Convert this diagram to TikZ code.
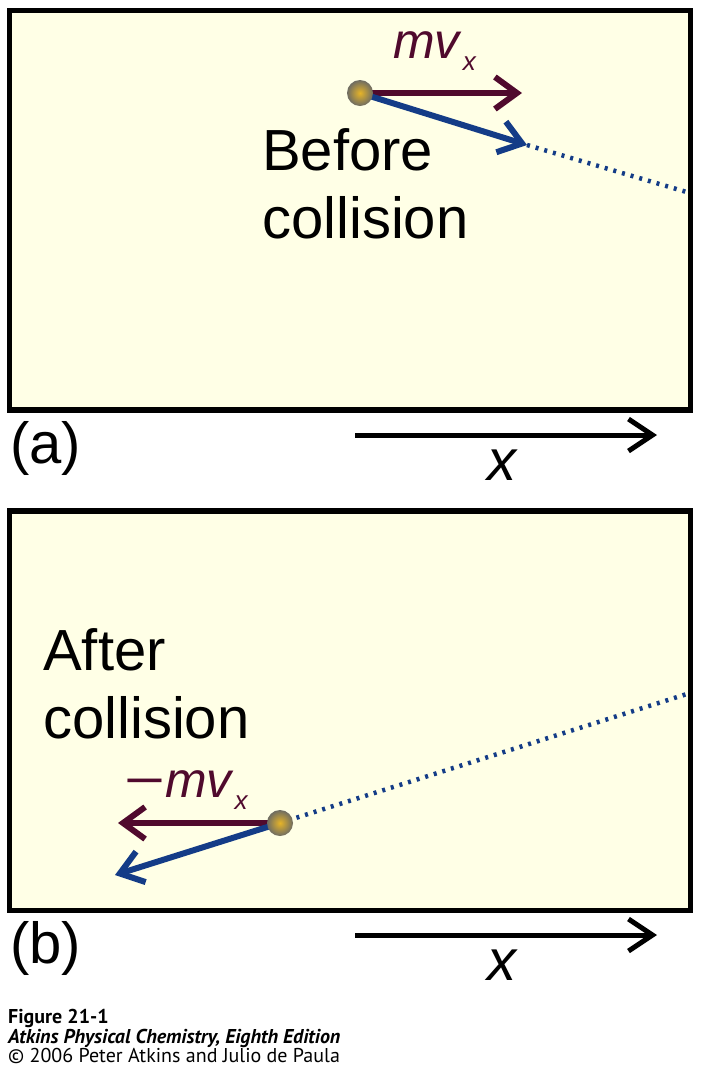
\documentclass[tikz,border=0pt]{standalone}
\usepackage{fontspec}
\setmainfont{Liberation Sans}
\newfontfamily\capfont{PT Sans}
\usetikzlibrary{arrows.meta}
\definecolor{panelfill}{RGB}{255,255,230}
\definecolor{momred}{RGB}{80,10,45}
\definecolor{velblue}{RGB}{20,60,135}
\newcommand{\subx}{\fontsize{26}{26}\selectfont\itshape x}
\tikzset{
  panel/.style={draw=black,line width=5.5pt,fill=panelfill},
  vec/.style={line width=6pt,-{Straight Barb[length=22pt,width=32pt]}},
  axis/.style={line width=5pt,-{Straight Barb[length=24pt,width=32pt]}},
  trail/.style={velblue,line width=4.5pt,dash pattern=on 3pt off 6pt},
  ball/.style={circle,minimum size=26pt,inner sep=0pt,
    inner color={rgb,255:red,230;green,180;blue,40},
    outer color={rgb,255:red,110;green,108;blue,98}},
  biglabel/.style={font=\fontsize{58}{68}\selectfont,inner sep=0pt,align=left},
  veclabel/.style={font=\fontsize{50}{50}\selectfont,inner sep=0pt,momred},
  caption/.style={font=\capfont\fontsize{20}{20}\selectfont,inner sep=0pt,anchor=base west}
}
\begin{document}
\begin{tikzpicture}[x=1pt,y=-1pt]
  \useasboundingbox (0,0) rectangle (703,1072);
  \draw[panel] (9.5,10.5) rectangle (690.5,410);
  \draw[panel] (9.5,511) rectangle (690.5,910.5);

  \coordinate (ballA) at (360,93);
  \coordinate (momA) at (522,93);
  \coordinate (velA) at (527,145);
  \coordinate (trailA) at (690,193);
  \draw[trail] (velA) -- (trailA);
  \draw[vec,momred] (ballA) -- (momA);
  \draw[vec,velblue] (ballA) -- (velA);
  \node[ball] (atomA) at (ballA) {};
  \node[veclabel,anchor=base west] (mvA) at (393,58)
    {\itshape mv\kern3pt\raisebox{-12pt}{\subx}};
  \node[biglabel,anchor=base west] (beforeA) at (262,238)
    {Before\\collision};

  \coordinate (ballB) at (280,823);
  \coordinate (momB) at (118,823);
  \coordinate (velB) at (115,875);
  \coordinate (trailB0) at (245,834);
  \coordinate (trailB) at (690,693);
  \draw[vec,momred] (ballB) -- (momB);
  \draw[vec,velblue] (ballB) -- (velB);
  \draw[trail] (trailB0) -- (trailB);
  \node[ball] (atomB) at (ballB) {};
  \node[veclabel,anchor=base west] (mvB) at (124,797)
    {\scalebox{1.4}[1]{−}{\itshape mv}\kern3pt\raisebox{-12pt}{\subx}};
  \node[biglabel,anchor=base west] (afterB) at (43,738)
    {After\\collision};

  \node[biglabel,anchor=base west] (labA) at (10,463) {(a)};
  \coordinate (axA0) at (355,435);
  \coordinate (axA1) at (657,435);
  \draw[axis] (axA0) -- (axA1);
  \node[biglabel,anchor=base west] (xA) at (487,480) {\itshape x};

  \node[biglabel,anchor=base west] (labB) at (10,963) {(b)};
  \coordinate (axB0) at (355,935);
  \coordinate (axB1) at (657,935);
  \draw[axis] (axB0) -- (axB1);
  \node[biglabel,anchor=base west] (xB) at (487,980) {\itshape x};

  \node[caption] (figno) at (8,1023) {\bfseries Figure 21-1};
  \node[caption] (book) at (8,1043)
    {\bfseries\itshape Atkins Physical Chemistry, Eighth Edition};
  \node[caption] (copy) at (8,1062) {© 2006 Peter Atkins and Julio de Paula};
\end{tikzpicture}
\end{document}
